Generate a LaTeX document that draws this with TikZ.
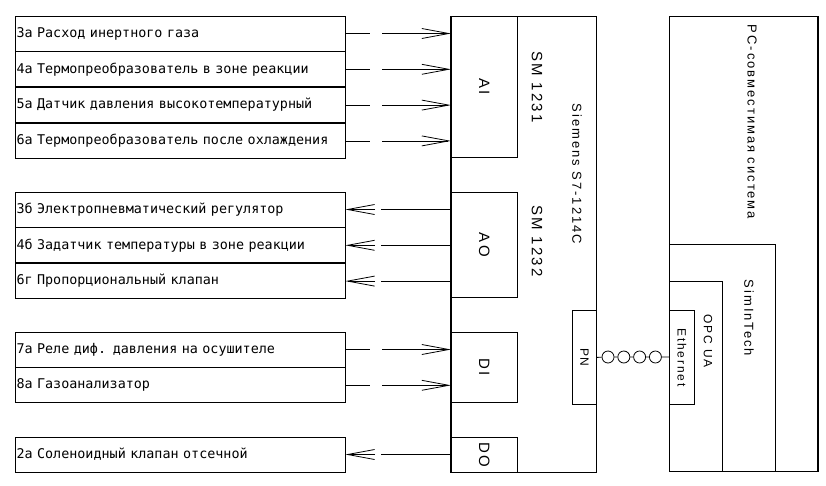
\documentclass[tikz,border=0pt]{standalone}
\usepackage{fontspec}
\newfontfamily\cadfont[LetterSpace=15]{Liberation Sans}
\newfontfamily\rowfont{DejaVu Sans Mono}
\usetikzlibrary{arrows.meta, positioning}

\begin{document}
\begin{tikzpicture}[
    x=1pt, y=-1pt, line width=0.8pt,
    row/.style={rectangle, draw, minimum width=330pt, minimum height=35pt,
                text width=327pt, align=left, inner xsep=1.5pt,
                font=\rowfont\fontsize{13.4}{15}\selectfont},
    box/.style={rectangle, draw, anchor=north west, inner sep=0pt},
    mlabel/.style={font=\cadfont\fontsize{15}{17}\selectfont},
    vtext/.style={rotate=-90, font=\cadfont\fontsize{13}{15}\selectfont},
    sig/.style={-{Straight Barb[length=27pt, width=10pt]}, dash pattern=on 25pt off 12pt on 200pt},
    cmd/.style={-{Straight Barb[length=27pt, width=10pt]}, dash pattern=on 70pt off 6pt on 200pt},
    bead/.style={circle, draw, minimum size=12pt, inner sep=0pt}
]
    \useasboundingbox (0,0) rectangle (826,485);

    % analog inputs
    \node[row] (r1) at (180,33.5) {3а Расход инертного газа};
    \node[row, below=0pt of r1] (r2) {4а Термопреобразователь в зоне реакции};
    \node[row, below=0pt of r2] (r3) {5а Датчик давления высокотемпературный};
    \node[row, below=0pt of r3] (r4) {6а Термопреобразователь после охлаждения};
    % analog outputs
    \node[row] (r5) at (180,209.5) {3б Электропневматический регулятор};
    \node[row, below=0pt of r5] (r6) {4б Задатчик температуры в зоне реакции};
    \node[row, below=0pt of r6] (r7) {6г Пропорциональный клапан};
    % digital
    \node[row] (r8) at (180,349.5) {7а Реле диф. давления на осушителе};
    \node[row, below=0pt of r8] (r9) {8а Газоанализатор};
    \node[row] (r10) at (180,454.5) {2а Соленоидный клапан отсечной};

    % PLC
    \node[box, minimum width=145pt, minimum height=456pt] (plc) at (451,16) {};
    \node[box, minimum width=66pt, minimum height=141pt, mlabel] (ai) at (451,16) {\rotatebox{-90}{AI}};
    \node[box, minimum width=66pt, minimum height=105pt, mlabel] (ao) at (451,192) {\rotatebox{-90}{AO}};
    \node[box, minimum width=66pt, minimum height=70pt, mlabel] (di) at (451,332) {\rotatebox{-90}{DI}};
    \node[box, minimum width=66pt, minimum height=35pt, mlabel] (do) at (451,437) {\rotatebox{-90}{DO}};
    \draw[line width=1.6pt] (plc.north west) -- (plc.south west);
    \node[rotate=-90, font=\cadfont\fontsize{15}{17}\selectfont] (sm1) at (537,87) {SM 1231};
    \node[rotate=-90, font=\cadfont\fontsize{15}{17}\selectfont] (sm2) at (537,241) {SM 1232};
    \node[vtext] (s7) at (577,174) {Siemens S7-1214C};
    \node[box, minimum width=24pt, minimum height=94pt, font=\cadfont\fontsize{12}{14}\selectfont] (pn) at (572,310) {\rotatebox{-90}{PN}};

    % PC side
    \node[box, minimum width=148pt, minimum height=455pt] (pc) at (669,16) {};
    \node[box, minimum width=106pt, minimum height=227pt] (sim) at (669,244) {};
    \node[box, minimum width=53pt, minimum height=190pt] (opc) at (669,281) {};
    \node[box, minimum width=25pt, minimum height=94pt, font=\cadfont\fontsize{12}{14}\selectfont] (eth) at (669,310) {\rotatebox{-90}{Ethernet}};
    \draw[line width=1.6pt] (pc.north east) -- (pc.south east);
    \node[vtext] (pctext) at (752,122) {PC-совместимая система};
    \node[vtext] (simtext) at (749,318) {SimInTech};
    \node[vtext, font=\cadfont\fontsize{12}{14}\selectfont] (opctext) at (708,341) {OPC UA};

    % signals
    \foreach \r/\m in {r1/ai, r2/ai, r3/ai, r4/ai, r8/di, r9/di}
        \draw[sig] (\r.east) -- (\r.east -| \m.west);
    \foreach \r/\m in {r5/ao, r6/ao, r7/ao, r10/do}
        \draw[cmd] (\r.east -| \m.west) -- (\r.east);

    % Ethernet link
    \node[bead] (c1) at (608,357) {};
    \node[bead, right=3pt of c1] (c2) {};
    \node[bead, right=3pt of c2] (c3) {};
    \node[bead, right=3pt of c3] (c4) {};
    \draw (pn.east) -- (c1) -- (c2) -- (c3) -- (c4) -- (c4 -| eth.west);
\end{tikzpicture}
\end{document}
